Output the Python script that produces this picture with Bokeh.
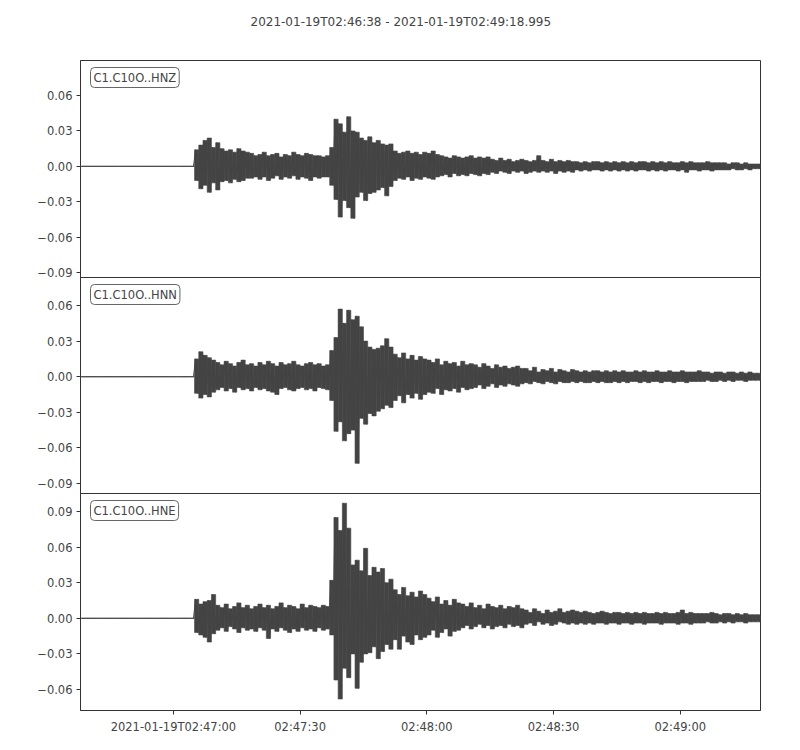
import numpy as np
from bokeh.plotting import figure
from bokeh.layouts import column
from bokeh.models import Label, FixedTicker, Range1d
from bokeh.embed import file_html
from bokeh.resources import INLINE

# ---------------- data ----------------
UNIT = 1e-3                      # values below are in units of 0.001
START_LABEL = "2021-01-19T02:46:38"
END_LABEL = "2021-01-19T02:49:18.995"
DURATION = 160.995               # seconds shown
CHANNELS = ["C1.C10O..HNZ", "C1.C10O..HNN", "C1.C10O..HNE"]

X_TICKS = [22, 52, 82, 112, 142]
X_TICK_LABELS = ["2021-01-19T02:47:00", "02:47:30", "02:48:00", "02:48:30", "02:49:00"]
Y_TICKS = [[0.06, 0.03, 0.0, -0.03, -0.06, -0.09],
           [0.06, 0.03, 0.0, -0.03, -0.06, -0.09],
           [0.09, 0.06, 0.03, 0.0, -0.03, -0.06]]
Y_RANGES = [(-0.0942, 0.0897), (-0.0984, 0.0836), (-0.0777, 0.1052)]

# per-second upper / lower envelope of each trace (1 value per second, 161 s)
HNZ_MAX = ([0] * 27
           + [14, 18, 22, 24, 16]
           + [20, 15, 13, 14, 12, 15, 13, 12]
           + [11, 9, 10, 12, 9, 10, 11, 8, 10, 9, 12, 10, 9, 11, 10, 9, 9, 8, 9]
           + [16, 40, 36, 29, 42, 30, 29, 24, 22, 25, 20, 22, 19, 18, 19]
           + [13, 11, 12, 13, 11, 12, 10, 12, 11, 13, 10]
           + [9, 8, 7, 9, 8, 7, 8, 9, 7, 8, 7, 8]
           + [6, 5, 7, 5, 6, 4, 5, 6, 5, 4, 5, 9, 5, 4, 6, 4, 5, 4, 5, 4]
           + [4, 3, 4, 3, 4, 4, 3, 4, 3, 4, 3, 4, 3, 4, 3, 4, 4, 3, 4, 3, 4, 3,
              4, 3, 3, 4, 3, 4, 3, 3, 3, 4, 3, 3, 3, 3, 2, 3, 3, 2, 3, 2, 2, 2])
HNZ_MIN = ([0] * 27
           + [-12, -19, -16, -22, -14]
           + [-20, -13, -12, -14, -11, -13, -12, -10]
           + [-10, -9, -11, -9, -12, -10, -8, -11, -9, -10, -8, -11, -9, -10, -12, -9, -10, -9, -9]
           + [-16, -28, -43, -29, -35, -44, -26, -22, -29, -23, -22, -20, -18, -25, -17]
           + [-12, -10, -11, -9, -12, -10, -11, -9, -10, -11, -9]
           + [-8, -7, -9, -6, -8, -7, -8, -6, -7, -8, -6, -7]
           + [-5, -6, -4, -5, -6, -4, -5, -4, -6, -5, -4, -5, -4, -5, -4, -6, -4, -5, -4, -5]
           + [-3, -4, -3, -4, -3, -3, -4, -3, -4, -3, -4, -3, -4, -3, -4, -3, -3, -4, -3, -4, -3, -4,
              -3, -3, -4, -3, -5, -3, -3, -4, -3, -3, -4, -3, -3, -3, -3, -2, -3, -3, -2, -3, -2, -2])

HNN_MAX = ([0] * 27
           + [15, 21, 18, 16, 14]
           + [12, 10, 13, 11, 9, 12, 14, 10, 11, 9, 12, 10, 13, 11, 9, 12, 10, 11, 13, 10,
              9, 11, 12, 10, 11, 9, 10]
           + [22, 33, 57, 45, 56, 48, 51, 42, 30, 25, 23, 24]
           + [26, 32, 25]
           + [19, 16, 20, 15, 18, 14, 17, 15]
           + [14, 12, 15, 10, 13, 11, 12, 9, 13, 10, 11]
           + [10, 8, 11, 9, 7, 10, 8, 9, 7, 8, 9, 7]
           + [7, 5, 8, 4, 6, 5, 7, 4, 6, 5, 4, 6]
           + [5, 4, 5, 4, 5, 5, 4, 5, 4, 5, 4, 5, 4, 4, 5, 4, 5, 4, 4, 5, 4, 4,
              5, 4, 4, 5, 4, 4, 4, 5, 4, 4, 3, 4, 4, 3, 4, 4, 3, 4, 3, 4, 3, 3])
HNN_MIN = ([0] * 27
           + [-14, -18, -15, -17, -13]
           + [-11, -9, -12, -10, -13, -9, -11, -10, -12, -9, -11, -10, -12, -13, -15, -10, -9, -11, -12, -10,
              -9, -11, -10, -12, -9, -10, -11]
           + [-20, -46, -38, -54, -48, -45, -73, -35, -40, -31, -33, -29]
           + [-27, -24, -26]
           + [-20, -16, -22, -15, -18, -14, -19, -15]
           + [-13, -14, -10, -15, -11, -12, -10, -13, -9, -11, -10]
           + [-9, -7, -10, -8, -6, -9, -7, -8, -6, -7, -8, -6]
           + [-5, -6, -4, -5, -6, -4, -5, -6, -4, -5, -5, -4]
           + [-5, -4, -5, -5, -4, -5, -4, -5, -5, -4, -5, -4, -5, -4, -4, -5, -4, -5, -4, -4, -5, -4,
              -4, -5, -4, -4, -5, -4, -4, -4, -4, -3, -4, -4, -3, -4, -3, -4, -3, -3, -4, -3, -3, -3])

HNE_MAX = ([0] * 27
           + [16, 12, 14, 15, 20]
           + [11, 9, 12, 8, 10, 13, 9, 11, 8, 10, 12, 9, 11, 8, 10, 13, 9, 11, 10, 8,
              12, 9, 11, 10, 9, 11, 10]
           + [32, 85, 74, 97, 76, 45, 49, 40, 59, 36, 43, 39, 42]
           + [30, 33]
           + [24, 20, 26, 19, 22, 18, 23, 20]
           + [17, 14, 18, 12, 15, 11, 16, 13]
           + [12, 10, 13, 9, 11, 8, 12, 10, 9, 11, 8, 10, 9, 11, 8]
           + [7, 5, 8, 6, 4, 7, 5, 6, 8, 5, 6, 7]
           + [6, 5, 6, 5, 4, 5, 6, 5, 4, 5, 5, 4, 5, 4, 5, 4, 5, 4, 4, 5, 4, 5,
              4, 4, 5, 7, 4, 5, 4, 4, 4, 4, 5, 4, 3, 4, 4, 3, 4, 3, 4, 3, 3, 3])
HNE_MIN = ([0] * 27
           + [-12, -14, -16, -20, -13]
           + [-10, -8, -11, -7, -9, -12, -8, -10, -9, -11, -8, -10, -17, -9, -11, -8, -10, -12, -9, -11,
              -8, -10, -9, -11, -8, -10, -9]
           + [-14, -52, -68, -42, -50, -30, -59, -37, -30, -29, -24, -34, -28]
           + [-22, -26]
           + [-18, -26, -15, -20, -22, -14, -18, -16]
           + [-14, -10, -16, -12, -9, -15, -11, -10]
           + [-8, -6, -9, -7, -5, -8, -6, -9, -7, -6, -8, -5, -7, -6, -8]
           + [-5, -4, -6, -3, -5, -4, -6, -5, -3, -4, -5, -4]
           + [-5, -4, -5, -4, -5, -4, -4, -5, -4, -4, -5, -4, -4, -5, -4, -4, -5, -4, -4, -4, -5, -4,
              -4, -4, -5, -4, -4, -5, -4, -4, -4, -3, -4, -4, -3, -4, -3, -4, -3, -3, -4, -3, -3, -3])

TRACES = [(HNZ_MAX, HNZ_MIN), (HNN_MAX, HNN_MIN), (HNE_MAX, HNE_MIN)]

# ---------------- styling ----------------
FONT = "DejaVu Sans"
TXT = "#444444"
AX = "#333333"
WAVE = "#444444"
FRAME_H = [217, 216, 217]
OVERLAP = 8   # extra room under a panel so its lowest tick label is not cut

x_range = Range1d(0, DURATION)

# header strip that carries the title
head = figure(width=792, height=60, min_border_left=80, min_border_right=32,
              min_border_top=0, min_border_bottom=0,
              x_range=x_range, y_range=Range1d(0, 1),
              output_backend="svg", toolbar_location=None,
              title=START_LABEL + "  -  " + END_LABEL)
head.axis.visible = False
head.grid.visible = False
head.outline_line_color = None
head.title.align = "left"
head.title.offset = 170
head.title.standoff = 24
head.title.text_font = FONT
head.title.text_font_size = "12px"
head.title.text_font_style = "normal"
head.title.text_color = TXT

figs = [head]
for i, ((mx, mn), name) in enumerate(zip(TRACES, CHANNELS)):
    lo, hi = Y_RANGES[i]
    p = figure(x_range=x_range, y_range=Range1d(lo, hi),
               frame_width=680, frame_height=FRAME_H[i],
               min_border_left=80, min_border_right=32,
               min_border_top=0,
               min_border_bottom=32 if i == 2 else OVERLAP,
               output_backend="svg", toolbar_location=None,
               styles={"margin-top": f"-{OVERLAP}px"} if i > 0 else {})
    p.grid.visible = False
    p.outline_line_color = AX
    p.outline_line_width = 1
    p.background_fill_color = "white"
    p.border_fill_color = None

    # waveform: filled band between the upper and lower envelope of each second
    n = min(len(mx), len(mn))
    t = np.arange(n, dtype=float)
    top = np.array(mx[:n], dtype=float) * UNIT
    bot = np.array(mn[:n], dtype=float) * UNIT
    p.vbar(x=t + 0.5, width=1.0, top=top, bottom=bot,
           fill_color=WAVE, line_color=WAVE, line_width=0.6)
    xs = np.empty(2 * n)
    ys = np.empty(2 * n)
    xs[0::2] = t + 0.25
    xs[1::2] = t + 0.75
    ys[0::2] = top
    ys[1::2] = bot
    p.line(xs, ys, line_color=WAVE, line_width=1)

    yax = p.yaxis[0]
    yax.ticker = FixedTicker(ticks=Y_TICKS[i])
    yax.major_label_overrides = {v: (f"{v:.2f}".replace("-", "\u2212")) for v in Y_TICKS[i]}
    yax.axis_line_color = AX
    yax.major_tick_line_color = AX
    yax.major_tick_out = 4
    yax.major_tick_in = 0
    yax.minor_tick_line_color = None
    yax.major_label_text_font = FONT
    yax.major_label_text_font_size = "11.5px"
    yax.major_label_text_color = TXT
    yax.major_label_standoff = 4

    xax = p.xaxis[0]
    if i < 2:
        xax.visible = False
    else:
        xax.ticker = FixedTicker(ticks=X_TICKS)
        xax.major_label_overrides = dict(zip(X_TICKS, X_TICK_LABELS))
        xax.axis_line_color = AX
        xax.major_tick_line_color = AX
        xax.major_tick_out = 4
        xax.major_tick_in = 0
        xax.minor_tick_line_color = None
        xax.major_label_text_font = FONT
        xax.major_label_text_font_size = "11.5px"
        xax.major_label_text_color = TXT
        xax.major_label_standoff = 5

    lab = Label(x=0, y=hi, x_offset=10, y_offset=-7, text=name,
                anchor="top_left", text_font=FONT, text_font_size="11.5px",
                text_color=TXT, background_fill_color="white",
                border_line_color="#666666", border_line_width=1,
                border_radius=4, padding=3)
    p.add_layout(lab)
    figs.append(p)

layout = column(*figs, spacing=0)
open("out.html", "w").write(file_html(layout, INLINE))
